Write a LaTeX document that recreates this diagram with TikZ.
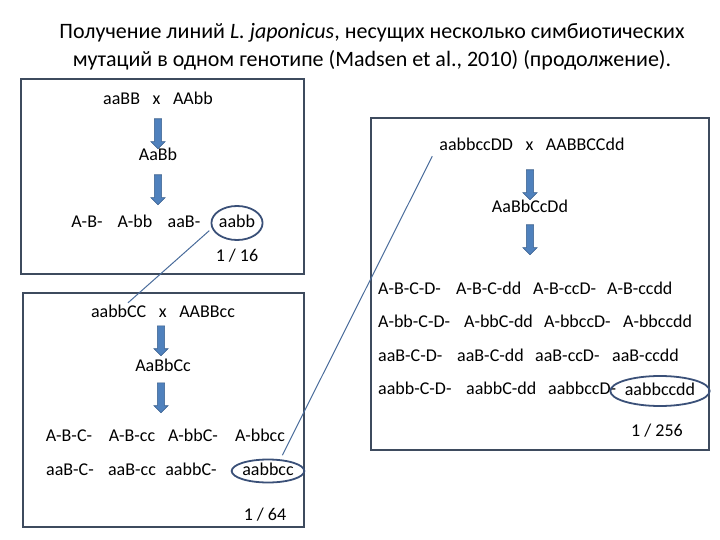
\documentclass[tikz,border=0pt]{standalone}
\usepackage{fontspec}
\setmainfont{Carlito}
\usetikzlibrary{shapes.geometric,shapes.arrows}
\definecolor{framec}{HTML}{3E4B5E}
\definecolor{ringc}{HTML}{3A5078}
\definecolor{arrc}{HTML}{4F81BD}
\definecolor{arrd}{HTML}{385D8A}
\definecolor{linkc}{HTML}{4A6C9B}
\newcommand{\crs}{\hspace{0.7em}x\hspace{0.7em}}
\begin{document}
\begin{tikzpicture}[x=1pt,y=-1pt,
    every node/.style={font=\fontsize{18}{21}\selectfont,inner sep=1pt},
    geno/.style={text height=12pt,text depth=4pt},
    frame/.style={draw=framec,line width=2.2pt},
    downarr/.style={single arrow,draw=arrd,fill=arrc,line width=0.6pt,shape border rotate=270,
        minimum height=30pt,inner sep=3.3pt,single arrow head extend=3.5pt,single arrow head indent=0pt},
    ring/.style={geno,ellipse,draw=ringc,line width=1.8pt,inner sep=0pt},
    link/.style={draw=linkc,line width=1pt}]
    \useasboundingbox (0,0) rectangle (720,540);
    \node[align=center,font=\fontsize{22}{28}\selectfont] (title) at (372,47)
        {Получение линий \textit{L. japonicus}, несущих несколько симбиотических\\
         мутаций в одном генотипе (Madsen et al., 2010) (продолжение).};
    % three frames
    \draw[frame] (21,79) rectangle (304,274);
    \draw[frame] (23,293) rectangle (304,527);
    \draw[frame] (371,118) rectangle (709,450);
    % two genes
    \node[geno] (cross1) at (158,101) {aaBB\crs AAbb};
    \node[downarr] (a1) at (158,132) {};
    \node[geno] (f1) at (158,157) {AaBb};
    \node[downarr] (a2) at (158,188) {};
    \node[geno] (g1) at (87,223) {A-B-};
    \node[geno] (g2) at (135,223) {A-bb};
    \node[geno] (g3) at (184,223) {aaB-};
    \node[ring,minimum width=50pt,minimum height=34pt] (g4) at (237,223) {aabb};
    \node[geno] (r16) at (237,257) {1 / 16};
    % three genes
    \node[geno] (cross2) at (163,313) {aabbCC\crs AABBcc};
    \node[downarr] (b1) at (161,339) {};
    \node[geno] (f2) at (163,367) {AaBbCc};
    \node[downarr] (b2) at (161,396) {};
    \node[geno] (g11) at (69,437) {A-B-C-};
    \node[geno] (g12) at (132,437) {A-B-cc};
    \node[geno] (g13) at (193,437) {A-bbC-};
    \node[geno] (g14) at (260,437) {A-bbcc};
    \node[geno] (g21) at (70,471) {aaB-C-};
    \node[geno] (g22) at (132,471) {aaB-cc};
    \node[geno] (g23) at (191,471) {aabbC-};
    \node[ring,minimum width=63pt,minimum height=23pt] (g24) at (268,471) {aabbcc};
    \node[geno] (r64) at (265,516) {1 / 64};
    % four genes
    \node[geno] (cross3) at (532,147) {aabbccDD\crs AABBCCdd};
    \node[downarr] (c1) at (530,183) {};
    \node[geno] (f3) at (530,208) {AaBbCcDd};
    \node[downarr] (c2) at (530,238) {};
    \node[geno,anchor=west] (h11) at (377,290) {A-B-C-D-};
    \node[geno,anchor=west] (h12) at (455,290) {A-B-C-dd};
    \node[geno,anchor=west] (h13) at (532,290) {A-B-ccD-};
    \node[geno,anchor=west] (h14) at (606,290) {A-B-ccdd};
    \node[geno,anchor=west] (h21) at (377,323) {A-bb-C-D-};
    \node[geno,anchor=west] (h22) at (463,323) {A-bbC-dd};
    \node[geno,anchor=west] (h23) at (543,323) {A-bbccD-};
    \node[geno,anchor=west] (h24) at (622,323) {A-bbccdd};
    \node[geno,anchor=west] (h31) at (377,357) {aaB-C-D-};
    \node[geno,anchor=west] (h32) at (456,357) {aaB-C-dd};
    \node[geno,anchor=west] (h33) at (534,357) {aaB-ccD-};
    \node[geno,anchor=west] (h34) at (611,357) {aaB-ccdd};
    \node[geno,anchor=west] (h41) at (377,390) {aabb-C-D-};
    \node[geno,anchor=west] (h42) at (465,390) {aabbC-dd};
    \node[geno,anchor=west] (h43) at (547,390) {aabbccD-};
    \node[ring,minimum width=86pt,minimum height=30pt] (h44) at (660,391) {aabbccdd};
    \node[geno] (r256) at (657,432) {1 / 256};
    % links between crosses
    \draw[link] ([xshift=-9pt,yshift=5pt]g4.south west) -- ([xshift=-35pt,yshift=1pt]cross2.north);
    \draw[link] ([xshift=-12pt,yshift=7pt]g24.north east) -- ([xshift=-6pt]cross3.south west);
\end{tikzpicture}
\end{document}
